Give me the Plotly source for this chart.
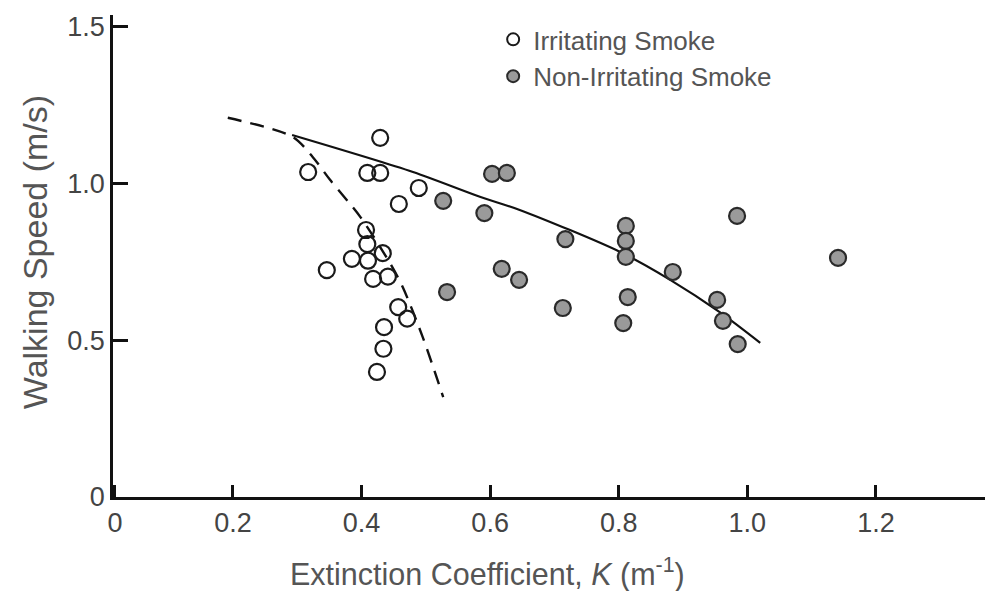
import plotly.graph_objects as go

# Irritating smoke (open circles)
irr_k = [0.317, 0.429, 0.409, 0.429, 0.489, 0.458, 0.407, 0.409, 0.385, 0.410,
         0.433, 0.346, 0.418, 0.441, 0.457, 0.471, 0.435, 0.434, 0.424]
irr_v = [1.037, 1.146, 1.034, 1.034, 0.986, 0.935, 0.852, 0.807, 0.760, 0.754,
         0.778, 0.724, 0.696, 0.703, 0.606, 0.569, 0.542, 0.473, 0.399]

# Non-irritating smoke (grey filled circles)
non_k = [0.527, 0.533, 0.603, 0.626, 0.591, 0.717, 0.811, 0.811, 0.811, 0.618,
         0.645, 0.884, 0.713, 0.814, 0.807, 0.953, 0.962, 0.985, 0.984, 1.141]
non_v = [0.945, 0.654, 1.031, 1.034, 0.906, 0.823, 0.865, 0.817, 0.766, 0.728,
         0.693, 0.718, 0.603, 0.638, 0.555, 0.629, 0.562, 0.488, 0.897, 0.763]

# Fitted curves
solid_k = [0.292, 0.480, 0.584, 0.646, 0.802, 0.880, 0.957, 1.020]
solid_v = [1.155, 1.037, 0.958, 0.916, 0.782, 0.693, 0.590, 0.492]
dash_k = [0.192, 0.293, 0.324, 0.351, 0.398, 0.444, 0.464, 0.495, 0.527]
dash_v = [1.210, 1.149, 1.085, 1.012, 0.894, 0.747, 0.670, 0.511, 0.319]

x_ticks = [0.0165, 0.2, 0.4, 0.6, 0.8, 1.0, 1.2]
x_text = ["0", "0.2", "0.4", "0.6", "0.8", "1.0", "1.2"]
y_ticks = [0, 0.5, 1.0, 1.5]
y_text = ["0", "0.5", "1.0", "1.5"]

x_title = "Extinction Coefficient, <i>K</i> (m<sup>-1</sup>)"
y_title = "Walking Speed (m/s)"

FONT = "Liberation Sans, Arial, sans-serif"

fig = go.Figure()
fig.add_trace(go.Scatter(x=solid_k, y=solid_v, mode="lines",
                         line=dict(color="#111", width=2.2, shape="spline", smoothing=0.8),
                         showlegend=False, hoverinfo="skip"))
fig.add_trace(go.Scatter(x=dash_k, y=dash_v, mode="lines",
                         line=dict(color="#111", width=2.4, dash="14px,9px",
                                   shape="spline", smoothing=0.8),
                         showlegend=False, hoverinfo="skip"))
fig.add_trace(go.Scatter(x=irr_k, y=irr_v, mode="markers", name="Irritating Smoke",
                         marker=dict(size=16, color="rgba(255,255,255,0)",
                                     line=dict(color="#1a1a1a", width=2.2))))
fig.add_trace(go.Scatter(x=non_k, y=non_v, mode="markers", name="Non-Irritating Smoke",
                         marker=dict(size=16, color="#9a9a9a",
                                     line=dict(color="#2a2a2a", width=2.2))))

# the page body adds an 8 px offset, so the figure is 8 px smaller on each axis
fig.update_layout(
    width=985, height=583,
    margin=dict(l=105, r=0, t=7, b=94, autoexpand=False),
    paper_bgcolor="white", plot_bgcolor="white",
    font=dict(family=FONT, color="#444"),
    showlegend=True,
    legend=dict(x=0.432, y=0.998, xanchor="left", yanchor="top",
                font=dict(size=26, color="#555"), bgcolor="rgba(0,0,0,0)",
                tracegroupgap=0, itemsizing="constant"),
    xaxis=dict(range=[0.0135, 1.382], showgrid=False, zeroline=False,
               showline=True, linecolor="#111", linewidth=2.5, automargin=False,
               ticks="inside", ticklen=12, tickwidth=2.5, tickcolor="#111",
               tickvals=x_ticks, ticktext=x_text,
               tickfont=dict(size=27, color="#444")),
    yaxis=dict(range=[0, 1.538], showgrid=False, zeroline=False,
               showline=True, linecolor="#111", linewidth=2.5, automargin=False,
               ticks="inside", ticklen=15, tickwidth=2.5, tickcolor="#111",
               tickvals=y_ticks, ticktext=y_text,
               tickfont=dict(size=27, color="#444")),
    annotations=[
        dict(text=x_title, xref="paper", yref="paper", x=0.425, y=-0.156,
             xanchor="center", yanchor="middle", showarrow=False,
             font=dict(size=30.5, color="#555")),
        dict(text=y_title, xref="paper", yref="paper", x=-0.0886, y=0.508,
             xanchor="center", yanchor="middle", showarrow=False, textangle=-90,
             font=dict(size=34, color="#555")),
    ],
)

fig.write_html("out.html")
